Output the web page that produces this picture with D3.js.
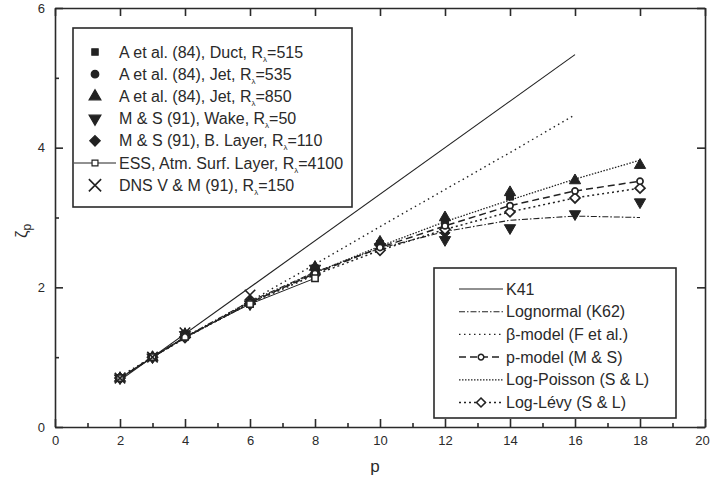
<!DOCTYPE html>
<html>
<head>
<meta charset="utf-8">
<script src="https://cdn.jsdelivr.net/npm/d3@7"></script>
<style>
  body { margin: 0; background: #fff; }
  svg { font-family: "Liberation Sans", Arial, sans-serif; }
  .axis path, .axis line { stroke: #2a2a2a; stroke-width: 1.6; }
  .axis text { fill: #2a2a2a; font-size: 13px; }
</style>
</head>
<body>
<script>
// exponent orders
var pModel = [2, 3, 4, 6, 8, 10, 12, 14, 16, 18];

// model curves
var k41P = [2, 16];
var k41 = [0.667, 5.333];
var lognormal = [0.69, 1.0, 1.29, 1.80, 2.22, 2.56, 2.80, 2.96, 3.02, 3.00];
var betaP = [2, 3, 4, 6, 8, 10, 12, 14, 16];
var betaModel = [0.73, 1.0, 1.27, 1.80, 2.33, 2.87, 3.40, 3.93, 4.47];
var pModelVals = [0.70, 1.0, 1.28, 1.78, 2.20, 2.57, 2.88, 3.17, 3.38, 3.52];
var logPoisson = [0.70, 1.0, 1.28, 1.78, 2.21, 2.59, 2.94, 3.25, 3.55, 3.82];
var logLevy = [0.70, 1.0, 1.28, 1.77, 2.18, 2.53, 2.83, 3.08, 3.28, 3.42];

// experimental data sets
var ductP = [2, 3, 4, 6, 8, 10, 12, 14];
var duct = [0.70, 1.0, 1.33, 1.78, 2.27, 2.62, 2.93, 3.30];
var jet535P = [2, 3, 4, 6, 8, 10, 12];
var jet535 = [0.70, 1.0, 1.33, 1.78, 2.22, 2.58, 2.85];
var jet850P = [2, 3, 4, 6, 8, 10, 12, 14, 16, 18];
var jet850 = [0.70, 1.0, 1.33, 1.80, 2.29, 2.65, 3.00, 3.36, 3.53, 3.75];
var wakeP = [2, 3, 4, 6, 8, 10, 12, 14, 16, 18];
var wake = [0.70, 1.0, 1.32, 1.76, 2.27, 2.58, 2.68, 2.85, 3.05, 3.22];
var blayerP = [2, 3, 4, 6, 8, 10, 12];
var blayer = [0.70, 1.0, 1.33, 1.77, 2.20, 2.55, 2.78];
var essP = [2, 3, 4, 6, 8];
var ess = [0.70, 1.0, 1.29, 1.76, 2.13];
var dnsP = [2, 3, 4, 6];
var dns = [0.70, 1.0, 1.35, 1.89];

var xTicks = [0, 2, 4, 6, 8, 10, 12, 14, 16, 18, 20];
var xMinor = [1, 3, 5, 7, 9, 11, 13, 15, 17, 19];
var yTicks = [0, 2, 4, 6];
var yMinor = [1, 3, 5];

var legend1 = ["A et al. (84), Duct, R", "A et al. (84), Jet, R", "A et al. (84), Jet, R",
               "M & S (91), Wake, R", "M & S (91), B. Layer, R", "ESS, Atm. Surf. Layer, R", "DNS V & M (91), R"];
var legend1Re = ["=515", "=535", "=850", "=50", "=110", "=4100", "=150"];
var legend2 = ["K41", "Lognormal (K62)", "\u03B2-model (F et al.)", "p-model (M & S)", "Log-Poisson (S & L)", "Log-L\u00E9vy (S & L)"];

var width = 711, height = 487;
var ink = "#222";

var svg = d3.select("body").append("svg")
  .attr("width", width)
  .attr("height", height);

var x = d3.scaleLinear().domain([0, 20]).range([55, 705]);
var y = d3.scaleLinear().domain([0, 6]).range([427, 8]);

function zip(ps, vs) { return ps.map(function(p, i) { return [p, vs[i]]; }); }

// custom symbols
var symDown = { draw: function(ctx, size) {
  var s = Math.sqrt(size / 0.433) / 2;
  ctx.moveTo(-s, -s * 0.58); ctx.lineTo(s, -s * 0.58); ctx.lineTo(0, s * 1.15); ctx.closePath();
}};
var symUp = { draw: function(ctx, size) {
  var s = Math.sqrt(size / 0.433) / 2;
  ctx.moveTo(-s, s * 0.58); ctx.lineTo(s, s * 0.58); ctx.lineTo(0, -s * 1.15); ctx.closePath();
}};
var symX = { draw: function(ctx, size) {
  var s = Math.sqrt(size) / 2;
  ctx.moveTo(-s, -s); ctx.lineTo(s, s); ctx.moveTo(s, -s); ctx.lineTo(-s, s);
}};
var symDiam = { draw: function(ctx, size) {
  var s = Math.sqrt(size / 2);
  ctx.moveTo(0, -s); ctx.lineTo(s, 0); ctx.lineTo(0, s); ctx.lineTo(-s, 0); ctx.closePath();
}};

// ---- axes ----
var bottom = svg.append("g").attr("class", "axis")
  .attr("transform", "translate(0," + y(0) + ")")
  .call(d3.axisBottom(x).tickValues(xTicks).tickFormat(d3.format("d"))
    .tickSizeInner(-8).tickSizeOuter(0).tickPadding(9));
bottom.selectAll(".tick text").filter(function(d) { return d === 20; }).attr("dx", -3);
svg.append("g").attr("class", "axis")
  .attr("transform", "translate(0," + y(0) + ")")
  .call(d3.axisBottom(x).tickValues(xMinor).tickSizeInner(-4).tickSizeOuter(0).tickFormat(""))
  .select(".domain").remove();

svg.append("g").attr("class", "axis")
  .attr("transform", "translate(" + x(0) + ",0)")
  .call(d3.axisLeft(y).tickValues(yTicks).tickFormat(d3.format("d"))
    .tickSizeInner(-8).tickSizeOuter(0).tickPadding(10));
svg.append("g").attr("class", "axis")
  .attr("transform", "translate(" + x(0) + ",0)")
  .call(d3.axisLeft(y).tickValues(yMinor).tickSizeInner(-4).tickSizeOuter(0).tickFormat(""))
  .select(".domain").remove();

svg.append("g").attr("class", "axis")
  .attr("transform", "translate(0," + y(6) + ")")
  .call(d3.axisTop(x).tickValues(xTicks).tickSizeInner(-8).tickSizeOuter(0).tickFormat(""));
svg.append("g").attr("class", "axis")
  .attr("transform", "translate(" + x(20) + ",0)")
  .call(d3.axisRight(y).tickValues(yTicks).tickSizeInner(-8).tickSizeOuter(0).tickFormat(""));

svg.append("text")
  .attr("x", 375).attr("y", 472)
  .attr("text-anchor", "middle")
  .style("font-size", "17px").style("fill", "#2a2a2a")
  .text("p");

var yl = svg.append("text")
  .attr("transform", "translate(27,238) rotate(-90)")
  .style("font-size", "17px").style("fill", "#2a2a2a");
yl.append("tspan").text("\u03B6");
yl.append("tspan").attr("dy", 4).style("font-size", "12px").text("p");

// ---- model lines ----
var line = d3.line().x(function(d) { return x(d[0]); }).y(function(d) { return y(d[1]); });

var models = [
  { p: k41P, v: k41, dash: null, w: 1.1 },
  { p: pModel, v: lognormal, dash: "6,2,1.5,2", w: 1.1 },
  { p: betaP, v: betaModel, dash: "1.5,3.5", w: 1.4 },
  { p: pModel, v: pModelVals, dash: "7,4", w: 1.5 },
  { p: pModel, v: logPoisson, dash: "1.5,1.5", w: 1.3 },
  { p: pModel, v: logLevy, dash: "2,3", w: 1.5 }
];
models.forEach(function(m) {
  svg.append("path")
    .datum(zip(m.p, m.v))
    .attr("d", line)
    .attr("fill", "none")
    .attr("stroke", ink)
    .attr("stroke-width", m.w)
    .attr("stroke-dasharray", m.dash);
});

// ESS thin line
svg.append("path")
  .datum(zip(essP, ess))
  .attr("d", line)
  .attr("fill", "none").attr("stroke", ink).attr("stroke-width", 1);

// ---- markers ----
function markers(pts, type, size, fill, sw) {
  svg.append("g").selectAll("path")
    .data(pts).enter().append("path")
    .attr("transform", function(d) { return "translate(" + x(d[0]) + "," + y(d[1]) + ")"; })
    .attr("d", d3.symbol().type(type).size(size))
    .attr("fill", fill)
    .attr("stroke", ink)
    .attr("stroke-width", sw);
}

markers(zip(blayerP, blayer), symDiam, 50, ink, 1);
markers(zip(jet535P, jet535), d3.symbolCircle, 45, ink, 1);
markers(zip(ductP, duct), d3.symbolSquare, 50, ink, 1);
markers(zip(jet850P, jet850), symUp, 55, ink, 1);
markers(zip(wakeP, wake), symDown, 55, ink, 1);
markers(zip(pModel, logLevy), symDiam, 50, "#fff", 1.7);
markers(zip(pModel, pModelVals), d3.symbolCircle, 30, "#fff", 1.7);
markers(zip(essP, ess), d3.symbolSquare, 40, "#fff", 1.5);
markers(zip(dnsP, dns), symX, 110, "none", 1.6);

// ---- legend 1 ----
svg.append("rect")
  .attr("x", 73).attr("y", 28).attr("width", 279).attr("height", 179)
  .attr("fill", "#fff").attr("stroke", "#2a2a2a").attr("stroke-width", 1.6);

var l1 = [
  { type: d3.symbolSquare, size: 40, fill: ink },
  { type: d3.symbolCircle, size: 45, fill: ink },
  { type: symUp, size: 60, fill: ink },
  { type: symDown, size: 60, fill: ink },
  { type: symDiam, size: 55, fill: ink },
  { type: d3.symbolSquare, size: 35, fill: "#fff" },
  { type: symX, size: 150, fill: "none" }
];
legend1.forEach(function(t, i) {
  var ly = 52 + i * 22.2;
  if (i === 5) {
    svg.append("line").attr("x1", 74).attr("x2", 116).attr("y1", ly).attr("y2", ly)
      .attr("stroke", ink).attr("stroke-width", 1);
  }
  svg.append("path")
    .attr("transform", "translate(95," + ly + ")")
    .attr("d", d3.symbol().type(l1[i].type).size(l1[i].size))
    .attr("fill", l1[i].fill).attr("stroke", ink).attr("stroke-width", i === 6 ? 1.6 : 1.2);
  var tx = svg.append("text").attr("x", 119).attr("y", ly + 5.5)
    .style("font-size", "16px").style("fill", "#2a2a2a");
  tx.append("tspan").text(t);
  tx.append("tspan").attr("dy", 4).style("font-size", "8px").text("\u03BB");
  tx.append("tspan").attr("dy", -4).text(legend1Re[i]);
});

// ---- legend 2 ----
svg.append("rect")
  .attr("x", 434).attr("y", 268).attr("width", 242).attr("height", 150)
  .attr("fill", "#fff").attr("stroke", "#2a2a2a").attr("stroke-width", 1.6);

legend2.forEach(function(t, i) {
  var ly = 289 + i * 22.7;
  var m = models[i];
  svg.append("line").attr("x1", 459).attr("x2", 503).attr("y1", ly).attr("y2", ly)
    .attr("stroke", ink).attr("stroke-width", m.w).attr("stroke-dasharray", m.dash);
  if (i === 3) {
    svg.append("path").attr("transform", "translate(481," + ly + ")")
      .attr("d", d3.symbol().type(d3.symbolCircle).size(25))
      .attr("fill", "#fff").attr("stroke", ink).attr("stroke-width", 1.5);
  }
  if (i === 5) {
    svg.append("path").attr("transform", "translate(481," + ly + ")")
      .attr("d", d3.symbol().type(symDiam).size(40))
      .attr("fill", "#fff").attr("stroke", ink).attr("stroke-width", 1.6);
  }
  svg.append("text").attr("x", 506).attr("y", ly + 5.5)
    .style("font-size", "16px").style("fill", "#2a2a2a")
    .text(t);
});
</script>
</body>
</html>
